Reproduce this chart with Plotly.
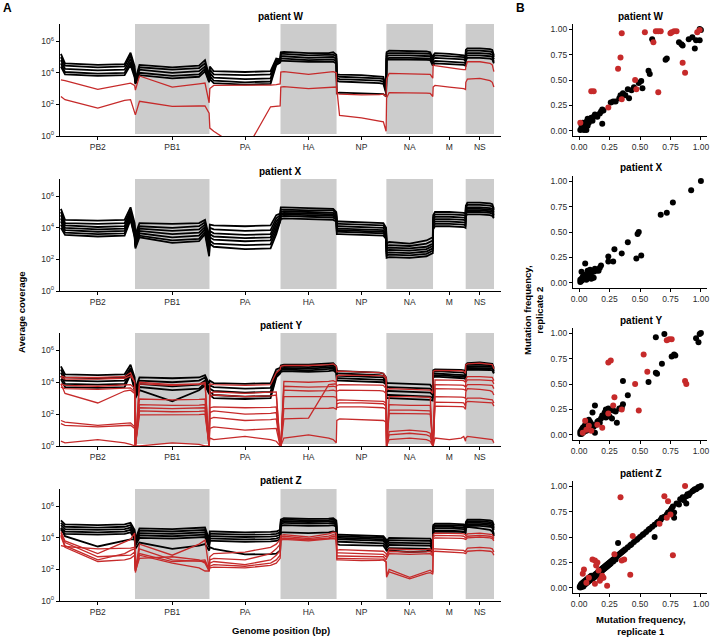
import plotly.graph_objects as go

# ---------------- data ----------------
SEG_NAMES = ["PB2", "PB1", "PA", "HA", "NP", "NA", "M", "NS"]
SEG_LEN = [2341, 2341, 2233, 1762, 1565, 1467, 1027, 890]
SHADED = ["PB1", "HA", "NA", "NS"]
SAMPLE_FRAC = [0.005, 0.06, 0.5, 0.86, 0.94, 0.995]   # sampling positions within each segment

# log10(average coverage), 6 samples per segment, segments separated by "|"
W_BLACK = [
    "5.2 4.6 4.5 4.55 5.27 4.4 | 3.6 4.5 4.35 4.45 4.8 3.8 | 4.4 4.1 4.05 4.1 4.9 4.85 | 5.3 5.33 5.25 5.25 5.3 5.15 | 3.9 3.88 3.85 3.8 3.75 3.0 | 5.3 5.4 5.38 5.35 5.3 4.9 | 5.1 5.25 5.2 5.15 5.1 5.0 | 5.45 5.55 5.55 5.5 5.45 5.1",
    "5.0 4.45 4.35 4.4 5.1 4.2 | 3.5 4.35 4.2 4.3 4.6 3.65 | 4.2 3.9 3.85 3.9 4.8 4.8 | 5.2 5.2 5.1 5.12 5.15 5.05 | 3.8 3.75 3.7 3.65 3.6 2.9 | 5.2 5.25 5.25 5.22 5.2 4.8 | 5.0 5.1 5.05 5.02 5.0 4.9 | 5.3 5.4 5.4 5.35 5.3 5.0",
    "4.8 4.25 4.15 4.2 4.9 4.0 | 3.4 4.2 4.0 4.1 4.4 3.55 | 4.0 3.7 3.6 3.65 4.7 4.75 | 5.05 5.05 4.95 4.97 5.0 4.9 | 3.65 3.6 3.55 3.5 3.45 2.8 | 5.05 5.1 5.1 5.07 5.05 4.7 | 4.85 4.95 4.9 4.87 4.85 4.75 | 5.15 5.25 5.25 5.2 5.15 4.85",
    "4.6 4.05 3.95 4.0 4.7 3.85 | 3.35 4.0 3.8 3.9 4.25 3.45 | 3.8 3.5 3.4 3.45 4.6 4.7 | 4.9 4.9 4.8 4.82 4.85 4.75 | 3.5 3.45 3.4 3.35 3.3 2.7 | 4.9 4.95 4.95 4.92 4.9 4.55 | 4.65 4.75 4.7 4.67 4.65 4.6 | 5.0 5.1 5.1 5.05 5.0 4.7",
    "4.4 3.9 3.8 3.85 4.5 3.7 | 3.3 3.85 3.65 3.75 4.1 3.4 | 3.6 3.35 3.25 3.3 4.5 4.65 | 4.75 4.75 4.7 4.7 4.7 4.6 | 2.7 2.75 2.7 2.67 2.65 2.5 | 4.8 4.85 4.85 4.82 4.8 4.45 | 4.5 4.6 4.55 4.52 4.5 4.45 | 4.8 4.95 4.95 4.9 4.85 4.6",
]
W_RED = [
    "3.55 3.5 2.95 3.3 3.35 3.2 | 2.9 3.8 3.1 3.3 3.35 2.1 | 3.0 3.2 3.2 3.22 3.25 3.3 | 4.05 4.07 3.9 4.0 4.07 4.0 | 2.7 2.65 2.6 2.62 2.65 2.5 | 3.6 3.97 3.95 3.92 3.9 3.66 | 4.5 4.45 4.3 4.22 4.2 4.2 | 4.4 4.7 4.7 4.6 4.5 4.07",
    "2.5 2.3 1.77 2.25 2.3 1.34 | 1.34 2.2 1.87 1.9 1.9 1.45 | 0.5 0.3 -1 1.85 1.88 1.9 | 3.1 3.12 3.0 3.1 3.12 3.1 | 3.0 1.3 1.15 0.95 0.9 0.3 | 2.4 2.75 2.75 2.72 2.7 2.5 | 3.1 3.2 3.1 3.05 3.0 2.95 | 3.4 3.6 3.65 3.5 3.4 3.1",
]

X_BLACK = [
    "5.2 4.5 4.45 4.5 5.3 4.3 | 3.6 4.3 4.25 4.3 4.5 3.4 | 4.2 4.15 4.1 4.15 4.8 4.9 | 5.3 5.3 5.25 5.22 5.2 5.0 | 4.4 4.4 4.35 4.32 4.3 4.0 | 3.0 3.1 3.0 3.2 3.3 3.4 | 4.8 5.0 5.0 4.97 4.95 4.9 | 5.4 5.6 5.6 5.55 5.5 5.2",
    "5.0 4.3 4.25 4.3 5.1 4.1 | 3.4 4.1 4.0 4.1 4.35 3.2 | 4.0 3.9 3.8 3.85 4.6 4.8 | 5.15 5.15 5.1 5.1 5.1 4.9 | 4.25 4.25 4.2 4.17 4.15 3.9 | 2.85 2.9 2.85 3.0 3.1 3.2 | 4.65 4.85 4.85 4.82 4.8 4.75 | 5.3 5.45 5.45 5.4 5.35 5.1",
    "4.8 4.15 4.05 4.1 4.95 3.9 | 3.2 3.95 3.8 3.9 4.2 3.0 | 3.8 3.65 3.55 3.6 4.4 4.7 | 5.0 5.05 5.0 4.97 4.95 4.8 | 4.1 4.1 4.05 4.02 4.0 3.75 | 2.7 2.75 2.7 2.8 2.9 3.0 | 4.5 4.7 4.7 4.67 4.65 4.6 | 5.2 5.3 5.3 5.25 5.2 5.0",
    "4.6 4.0 3.9 3.95 4.85 3.75 | 3.0 3.8 3.6 3.7 4.05 2.8 | 3.6 3.45 3.35 3.4 4.2 4.6 | 4.9 4.95 4.9 4.87 4.85 4.7 | 3.95 3.95 3.9 3.87 3.85 3.6 | 2.55 2.6 2.55 2.65 2.75 2.85 | 4.35 4.55 4.55 4.52 4.5 4.45 | 5.1 5.2 5.2 5.15 5.1 4.9",
    "4.4 3.85 3.75 3.8 4.7 3.6 | 2.9 3.65 3.4 3.5 3.9 2.6 | 3.4 3.25 3.15 3.2 4.0 4.5 | 4.8 4.85 4.8 4.77 4.75 4.6 | 3.85 3.85 3.8 3.77 3.75 3.5 | 2.4 2.45 2.4 2.5 2.6 2.7 | 4.2 4.4 4.4 4.37 4.35 4.3 | 5.0 5.1 5.1 5.05 5.0 4.8",
    "4.2 3.7 3.6 3.65 4.6 3.5 | 2.8 3.5 3.2 3.3 3.75 2.4 | 3.2 3.0 2.9 2.95 3.8 4.4 | 4.7 4.75 4.7 4.67 4.65 4.5 | 3.75 3.75 3.7 3.67 3.65 3.4 | 2.25 2.3 2.25 2.35 2.45 2.55 | 4.05 4.25 4.25 4.22 4.2 4.15 | 4.9 5.0 5.0 4.95 4.9 4.7",
    "4.0 3.55 3.45 3.5 4.5 3.4 | 2.7 3.4 3.05 3.15 3.6 2.2 | 3.0 2.8 2.65 2.7 3.6 4.3 | 4.55 4.6 4.55 4.52 4.5 4.4 | 3.6 3.6 3.55 3.52 3.5 3.3 | 2.1 2.15 2.1 2.2 2.3 2.4 | 3.9 4.1 4.1 4.07 4.05 4.0 | 4.75 4.85 4.85 4.8 4.75 4.6",
]
X_RED = []

Y_BLACK = [
    "5.0 4.5 4.45 4.5 5.1 4.3 | 3.6 4.3 4.25 4.3 4.45 3.9 | 4.1 3.95 3.9 3.95 4.8 4.9 | 5.05 5.1 5.1 5.15 5.2 5.0 | 4.7 4.7 4.65 4.6 4.55 4.3 | 3.95 3.95 3.9 3.87 3.85 3.6 | 4.75 4.8 4.8 4.77 4.75 4.6 | 5.1 5.2 5.25 5.2 5.15 4.9",
    "4.8 4.3 4.25 4.3 4.9 4.0 | 3.4 4.1 4.0 4.1 4.3 3.6 | 3.8 3.7 3.6 3.65 4.6 4.8 | 4.95 5.0 4.95 5.0 5.05 4.9 | 4.55 4.55 4.5 4.45 4.4 4.15 | 3.7 3.7 3.65 3.62 3.6 3.4 | 4.6 4.7 4.65 4.62 4.6 4.5 | 5.0 5.1 5.1 5.07 5.05 4.8",
    "4.6 4.1 4.05 4.1 4.75 3.8 | 3.2 3.9 3.75 3.85 4.1 3.4 | 3.6 3.45 3.35 3.4 4.5 4.7 | 4.85 4.9 4.85 4.9 4.95 4.8 | 4.4 4.4 4.35 4.32 4.3 4.05 | 3.45 3.45 3.4 3.37 3.35 3.2 | 4.5 4.55 4.5 4.47 4.45 4.4 | 4.9 5.0 5.0 4.97 4.95 4.7",
    "4.4 3.9 3.85 3.9 4.6 3.6 | 3.1 3.7 3.5 3.6 3.95 3.3 | 3.4 3.2 3.1 3.15 4.4 4.6 | 4.75 4.8 4.75 4.8 4.85 4.7 | 4.25 4.25 4.2 4.17 4.15 3.95 | 3.2 3.2 3.15 3.12 3.1 3.0 | 4.4 4.45 4.4 4.37 4.35 4.3 | 4.8 4.9 4.9 4.87 4.85 4.6",
    "4.2 3.7 3.65 3.7 4.5 3.5 | 3.0 3.5 2.8 3.5 3.8 3.2 | 3.2 3.0 2.95 3.0 4.3 4.55 | 4.65 4.7 4.65 4.7 4.75 4.6 | 4.1 4.1 4.05 4.02 4.0 3.85 | 3.0 3.0 2.95 2.92 2.9 2.85 | 4.3 4.35 4.3 4.27 4.25 4.2 | 4.7 4.8 4.8 4.77 4.75 4.55",
]
Y_RED = [
    "4.3 4.2 4.2 4.25 4.4 4.0 | 0 3.9 3.8 3.85 3.9 0 | 3.9 3.85 3.8 3.85 4.6 4.8 | 5.0 5.05 5.05 5.1 5.15 5.0 | 4.65 4.7 4.65 4.6 4.55 4.3 | 3.5 3.6 3.55 3.52 3.5 3.3 | 4.7 4.75 4.75 4.72 4.7 4.55 | 5.1 5.15 5.2 5.15 5.1 4.85",
    "4.4 4.3 4.3 4.35 4.6 4.0 | 0 4.0 3.85 3.9 4.0 0 | 3.3 3.4 3.3 3.35 3.4 0 | 0 4.05 4.0 4.05 4.1 4.0 | 4.4 4.45 4.45 4.42 4.4 4.2 | 0 3.1 3.1 3.07 3.05 0 | 0 4.15 4.15 4.12 4.1 4.0 | 4.2 4.35 4.35 4.32 4.3 4.1",
    "3.9 3.8 3.75 3.8 3.85 3.6 | 0 2.95 2.9 2.92 2.95 0 | 3.1 3.2 3.1 3.15 3.2 0 | 0 3.75 3.7 3.72 3.75 3.7 | 3.8 3.85 3.85 3.82 3.8 3.6 | 0 2.6 2.55 2.55 2.55 0 | 0 3.85 3.85 3.82 3.8 3.7 | 4.0 4.15 4.15 4.12 4.1 3.9",
    "3.7 3.6 3.55 3.6 3.65 3.4 | 0 2.6 2.55 2.57 2.6 0 | 2.4 2.45 2.4 2.42 2.45 0 | 0 3.5 3.45 3.47 3.5 3.45 | 3.45 3.5 3.5 3.47 3.45 3.3 | 0 2.25 2.25 2.22 2.2 0 | 0 3.6 3.6 3.57 3.55 3.5 | 3.7 3.85 3.85 3.82 3.8 3.6",
    "3.9 3.3 2.7 3.45 3.5 3.3 | 0 2.4 2.35 2.37 2.4 0 | 2.1 2.2 2.0 2.05 2.1 0 | 0 3.1 3.1 3.1 3.1 3.05 | 2.85 2.9 2.85 2.82 2.8 2.7 | 0 2.05 2.05 2.02 2.0 0 | 0 3.1 3.1 3.07 3.05 3.0 | 3.4 3.6 3.55 3.47 3.4 3.2",
    "1.6 1.5 1.3 1.4 1.45 1.2 | 0 2.2 2.15 2.17 2.2 0 | 1.7 1.8 1.6 1.65 1.7 0 | 0 2.35 2.35 2.37 2.4 2.3 | 2.65 2.7 2.7 2.67 2.65 2.5 | 0 0.9 1.0 0.9 0.8 0 | 0 2.75 2.75 2.72 2.7 2.5 | 2.9 3.0 3.0 2.95 2.9 2.7",
    "1.4 1.3 1.2 1.25 1.3 1.1 | 0 1.95 1.95 1.97 2.0 0 | 1.1 1.2 1.0 1.05 1.1 0 | 0 1.7 1.75 3.85 3.9 3.9 | 2.4 2.45 2.45 2.42 2.4 2.3 | 0 0.7 0.8 0.7 0.6 0 | 0 2.5 2.5 2.47 2.45 2.3 | 2.7 2.8 2.75 2.72 2.7 2.5",
    "0.3 0.2 0.4 0.2 0.1 0 | 0 0 0.2 0.1 0 0 | 0.5 0.4 0.6 0.4 0.3 0 | 0 0.5 0.7 0.5 0.4 0.2 | 1.6 1.7 1.65 1.62 1.6 1.5 | 0 0.4 0.5 0.4 0.3 0 | 0 0.5 0.4 0.5 0.6 0.3 | 0.5 0.6 0.5 0.45 0.4 0.2",
]

Z_BLACK = [
    "5.1 4.85 4.8 4.85 4.95 4.5 | 3.9 4.6 4.55 4.6 4.65 3.9 | 4.4 4.4 4.35 4.37 4.4 4.5 | 5.15 5.25 5.2 5.22 5.25 5.1 | 4.2 4.2 4.15 4.12 4.1 3.9 | 3.8 4.0 3.95 3.95 3.95 3.7 | 4.8 4.9 4.9 4.87 4.85 4.75 | 5.0 5.15 5.15 5.1 5.05 4.8",
    "4.95 4.7 4.65 4.7 4.8 4.35 | 3.8 4.45 4.4 4.45 4.5 3.75 | 4.25 4.25 4.2 4.22 4.25 4.35 | 5.05 5.15 5.1 5.12 5.15 5.0 | 4.1 4.1 4.05 4.02 4.0 3.8 | 3.65 3.85 3.8 3.8 3.8 3.55 | 4.7 4.8 4.8 4.77 4.75 4.65 | 4.9 5.05 5.05 5.0 4.95 4.7",
    "4.8 4.55 4.5 4.55 4.65 4.2 | 3.7 4.3 4.25 4.3 4.35 3.6 | 4.1 4.1 4.05 4.07 4.1 4.2 | 4.95 5.05 5.0 5.02 5.05 4.9 | 4.0 4.0 3.95 3.92 3.9 3.7 | 3.5 3.7 3.65 3.65 3.65 3.4 | 4.6 4.7 4.7 4.67 4.65 4.55 | 4.8 4.95 4.95 4.9 4.85 4.6",
    "4.65 4.4 4.35 4.4 4.5 4.05 | 3.6 4.15 4.1 4.15 4.2 3.5 | 3.95 3.95 3.9 3.92 3.95 4.05 | 4.85 4.95 4.9 4.92 4.95 4.8 | 3.9 3.9 3.85 3.82 3.8 3.6 | 3.35 3.55 3.5 3.5 3.5 3.25 | 4.5 4.6 4.6 4.57 4.55 4.45 | 4.7 4.85 4.85 4.8 4.75 4.5",
    "4.5 4.25 4.2 4.25 4.35 3.9 | 3.5 4.0 3.95 4.0 4.05 3.4 | 3.8 3.8 3.75 3.77 3.8 3.9 | 4.75 4.8 4.75 4.77 4.8 4.7 | 3.75 3.75 3.7 3.67 3.65 3.45 | 3.15 3.35 3.3 3.3 3.3 3.1 | 4.4 4.45 4.45 4.42 4.4 4.35 | 4.6 4.75 4.75 4.7 4.65 4.2",
    "4.6 4.1 3.45 3.8 3.9 3.9 | 3.3 3.7 3.3 3.5 3.6 3.2 | 3.4 3.3 2.95 2.97 3.0 3.2 | 4.35 4.35 4.3 4.35 4.4 4.3 | 3.6 3.55 3.5 3.5 3.5 3.3 | 3.2 3.2 3.1 3.15 3.2 3.1 | 4.3 4.4 4.4 4.37 4.35 4.3 | 4.6 4.7 4.6 4.5 4.4 4.1",
]
Z_RED = [
    "4.4 3.8 3.0 3.7 3.9 4.3 | 2.0 3.6 2.9 3.6 3.85 2.0 | 2.8 3.0 3.1 3.4 3.6 3.9 | 4.15 4.2 4.05 4.25 4.35 4.3 | 3.2 3.25 3.2 3.17 3.15 3.0 | 2.9 3.3 3.25 3.27 3.3 3.1 | 4.2 4.3 4.3 4.27 4.25 4.2 | 4.1 4.25 4.3 4.25 4.2 4.0",
    "4.2 3.5 2.6 3.0 3.2 3.3 | 1.9 3.3 2.6 2.55 2.5 1.9 | 2.6 2.7 2.6 3.0 3.3 3.6 | 4.05 4.1 3.95 4.1 4.2 4.15 | 3.05 3.05 3.0 2.97 2.95 2.8 | 2.8 3.15 3.1 3.12 3.15 2.95 | 4.05 4.15 4.15 4.12 4.1 4.05 | 4.0 4.1 4.15 4.1 4.05 3.9",
    "3.5 3.45 3.3 3.32 3.35 3.4 | 2.0 3.0 2.5 2.55 2.6 2.0 | 2.4 2.5 2.3 2.6 2.9 3.2 | 3.95 4.0 3.85 4.0 4.1 4.05 | 2.85 2.85 2.8 2.8 2.8 2.6 | 2.7 3.0 2.95 2.97 3.0 2.85 | 3.95 4.0 4.0 3.97 3.95 3.9 | 3.9 4.0 4.05 4.0 3.95 3.8",
    "4.3 3.7 2.8 2.85 2.9 3.1 | 1.8 2.9 2.4 2.1 1.9 1.9 | 2.2 2.3 2.2 2.4 2.6 2.9 | 3.9 3.95 3.9 3.95 4.0 3.95 | 2.7 2.7 2.65 2.65 2.65 2.5 | 1.6 2.0 1.5 1.9 1.95 1.8 | 3.3 3.3 3.25 3.22 3.2 3.1 | 3.2 3.35 3.4 3.35 3.3 3.1",
    "4.1 3.4 2.5 2.6 2.7 2.9 | 1.9 2.7 2.8 2.6 2.4 1.9 | 2.1 2.15 2.1 2.25 2.4 2.7 | 3.85 3.9 3.8 3.9 3.95 3.9 | 2.6 2.6 2.55 2.57 2.6 2.45 | 1.5 1.85 1.4 1.75 1.8 1.7 | 3.1 3.15 3.1 3.07 3.05 3.0 | 3.0 3.15 3.2 3.15 3.1 2.9",
]

# mutation frequencies: replicate 1 (x) vs replicate 2 (y)
W_BLK_X = [0.01,0.02,0.02,0.03,0.03,0.04,0.04,0.05,0.05,0.06,0.06,0.07,0.07,0.08,0.09,0.10,0.11,0.12,0.13,0.15,0.17,0.18,0.19,0.20,0.19,
           0.26,0.28,0.30,0.33,0.34,0.36,0.38,0.40,0.41,0.43,0.45,0.49,0.51,0.52,0.57,0.58,0.60,0.71,0.72,0.82,0.84,0.85,0.90,0.93,0.95,0.96,0.99,1.00,0.99]
W_BLK_Y = [0.01,0.03,0.06,0.02,0.08,0.04,0.01,0.06,0.03,0.09,0.01,0.05,0.12,0.08,0.11,0.13,0.10,0.14,0.16,0.14,0.17,0.19,0.21,0.20,0.07,
           0.28,0.29,0.29,0.32,0.35,0.37,0.35,0.41,0.32,0.40,0.43,0.47,0.49,0.42,0.59,0.56,0.90,0.70,0.71,0.87,0.85,0.84,0.90,0.92,0.81,0.89,1.00,0.99,0.89]
W_RED_X = [0.01,0.10,0.12,0.24,0.32,0.34,0.35,0.35,0.46,0.47,0.54,0.61,0.63,0.65,0.67,0.65,0.75,0.76,0.78,0.80,0.85,0.87,0.97,0.99]
W_RED_Y = [0.08,0.39,0.39,0.23,0.61,0.72,0.96,0.31,0.50,0.41,0.97,0.87,0.98,0.98,0.98,0.38,0.96,0.97,0.98,0.98,0.67,0.57,0.97,0.99]

X_BLK_X = [0.67,0.72,0.77,0.92,1.00,0.40,0.48,0.49,0.51,0.47,0.35,0.29,0.28,0.24,0.24,0.18,0.17,0.16,0.13,0.12,0.11,0.10,0.09,0.08,0.07,
           0.06,0.05,0.05,0.04,0.03,0.02,0.02,0.01,0.03,0.06,0.08,0.10,0.12,0.14,0.09,0.07,0.04,0.02,0.01,0.015]
X_BLK_Y = [0.67,0.69,0.79,0.91,1.00,0.40,0.48,0.50,0.27,0.24,0.29,0.33,0.21,0.26,0.21,0.17,0.15,0.12,0.14,0.11,0.05,0.10,0.13,0.09,0.12,
           0.07,0.19,0.05,0.04,0.06,0.11,0.02,0.01,0.03,0.03,0.06,0.04,0.05,0.12,0.10,0.07,0.08,0.04,0.03,0.02]
X_RED_X = []
X_RED_Y = []

Y_BLK_X = [1.00,0.99,0.96,0.98,0.70,0.63,0.79,0.76,0.78,0.68,0.63,0.64,0.57,0.36,0.40,0.36,0.35,0.31,0.28,0.26,0.24,0.22,0.21,0.20,0.22,
           0.25,0.27,0.18,0.17,0.16,0.14,0.13,0.13,0.12,0.11,0.10,0.10,0.09,0.08,0.07,0.06,0.05,0.05,0.04,0.03,0.03,0.02,0.02,0.01,0.01,
           0.04,0.06,0.08,0.15,0.19,0.23,0.30,0.33]
Y_BLK_Y = [1.00,0.99,0.95,0.91,0.99,0.96,0.78,0.77,0.79,0.70,0.61,0.60,0.52,0.53,0.39,0.30,0.27,0.12,0.24,0.25,0.26,0.25,0.22,0.18,0.17,
           0.18,0.16,0.16,0.12,0.14,0.10,0.29,0.02,0.08,0.22,0.11,0.05,0.13,0.07,0.10,0.04,0.10,0.06,0.03,0.07,0.02,0.05,0.01,0.01,0.03,
           0.08,0.12,0.15,0.13,0.19,0.21,0.23,0.26]
Y_RED_X = [0.72,0.74,0.76,0.53,0.24,0.26,0.56,0.46,0.87,0.88,0.49,0.29,0.35,0.28,0.24,0.19,0.05,0.06,0.10,0.08,0.15,0.03]
Y_RED_Y = [0.93,0.94,0.94,0.79,0.71,0.73,0.62,0.50,0.53,0.50,0.24,0.37,0.25,0.29,0.21,0.07,0.14,0.05,0.04,0.09,0.10,0.02]

Z_BLK_X = [0.005,0.01,0.01,0.015,0.02,0.02,0.025,0.03,0.03,0.035,0.04,0.04,0.045,0.05,0.05,0.055,0.06,0.06,0.065,0.07,0.07,0.075,0.08,0.08,0.085,
           0.09,0.09,0.095,0.10,0.10,0.11,0.11,0.12,0.12,0.13,0.13,0.14,0.14,0.15,0.15,0.16,0.16,0.17,0.17,0.18,0.18,0.19,0.19,0.20,0.20,
           0.21,0.21,0.22,0.22,0.23,0.23,0.24,0.24,0.25,0.25,0.26,0.26,0.27,0.28,0.28,0.29,0.30,0.30,0.31,0.32,0.33,0.32,0.34,0.35,0.36,
           0.37,0.38,0.40,0.42,0.43,0.45,0.47,0.48,0.50,0.52,0.53,0.55,0.57,0.58,0.60,0.62,0.62,0.64,0.65,0.67,0.68,0.70,0.72,0.73,0.75,
           0.76,0.77,0.78,0.78,0.80,0.82,0.83,0.85,0.86,0.88,0.88,0.89,0.90,0.91,0.93,0.94,0.95,0.96,0.97,0.98,0.99,1.00]
Z_BLK_Y = [0.01,0.02,0.005,0.03,0.01,0.04,0.02,0.03,0.05,0.015,0.04,0.06,0.03,0.05,0.07,0.04,0.06,0.08,0.05,0.07,0.09,0.06,0.08,0.10,0.07,
           0.09,0.11,0.08,0.10,0.12,0.09,0.11,0.12,0.10,0.13,0.11,0.14,0.12,0.15,0.13,0.16,0.14,0.17,0.15,0.18,0.16,0.19,0.17,0.20,0.18,
           0.21,0.19,0.22,0.20,0.23,0.21,0.24,0.22,0.25,0.23,0.26,0.24,0.27,0.28,0.26,0.29,0.30,0.28,0.31,0.32,0.33,0.44,0.34,0.35,0.36,
           0.37,0.38,0.40,0.42,0.43,0.45,0.47,0.48,0.50,0.52,0.53,0.55,0.57,0.58,0.60,0.50,0.62,0.64,0.65,0.67,0.69,0.70,0.72,0.74,0.76,
           0.78,0.80,0.69,0.74,0.83,0.82,0.87,0.89,0.86,0.90,0.83,0.92,0.91,0.93,0.95,0.96,0.97,0.97,0.98,0.99,0.99,1.00]
Z_RED_X = [0.03,0.04,0.06,0.11,0.13,0.14,0.15,0.16,0.18,0.17,0.20,0.23,0.13,0.29,0.35,0.37,0.42,0.44,0.66,0.72,0.75,0.77,0.87,0.34,0.70,0.73,0.08,0.19]
Z_RED_Y = [0.14,0.18,0.05,0.28,0.27,0.22,0.25,0.17,0.09,0.07,0.10,0.02,0.04,0.33,0.27,0.28,0.13,0.51,0.63,0.69,0.72,0.32,1.00,0.89,0.90,0.85,0.10,0.12]

PATIENTS = ["W", "X", "Y", "Z"]
COVERAGE = {"W": (W_BLACK, W_RED), "X": (X_BLACK, X_RED), "Y": (Y_BLACK, Y_RED), "Z": (Z_BLACK, Z_RED)}
FREQS = {"W": (W_BLK_X, W_BLK_Y, W_RED_X, W_RED_Y), "X": (X_BLK_X, X_BLK_Y, X_RED_X, X_RED_Y),
         "Y": (Y_BLK_X, Y_BLK_Y, Y_RED_X, Y_RED_Y), "Z": (Z_BLK_X, Z_BLK_Y, Z_RED_X, Z_RED_Y)}

# ---------------- geometry ----------------
FW, FH = 711, 637
def px(v): return v / FW
def py(v): return 1 - v / FH

seg_start = []
acc = 0
for L in SEG_LEN:
    seg_start.append(acc)
    acc += L
genome_x = []
for s, L in zip(seg_start, SEG_LEN):
    genome_x += [s + f * L for f in SAMPLE_FRAC]
mids = [s + L / 2 for s, L in zip(seg_start, SEG_LEN)]

def parse(s):
    vals = [10 ** float(v) for v in s.replace("|", " ").split()]
    if len(vals) != len(genome_x):
        raise ValueError(f"line has {len(vals)} values: {s[:40]}")
    return vals

BLACK = "#000000"
RED = "#C62A2A"
FONT = "Liberation Sans, Arial, sans-serif"
TICKFONT = dict(family=FONT, size=8.5, color="#2b2b2b")

LEFT_X = [px(60), px(501)]
LEFT_Y = [(136, 24), (291, 179), (446, 333), (601, 489)]
RIGHT_X = [px(573), px(707)]
RIGHT_Y = [(136, 24), (288, 176), (440, 328), (593, 481)]

fig = go.Figure()
layout = dict(width=FW, height=FH, margin=dict(l=0, r=0, t=0, b=0),
              paper_bgcolor="white", plot_bgcolor="white", showlegend=False)
shapes = []
annotations = []

def axis_common():
    return dict(showgrid=False, zeroline=False, showline=True, linecolor="black", linewidth=1.3,
                ticks="outside", ticklen=3, tickwidth=1, tickcolor="black", tickfont=TICKFONT,
                fixedrange=True, automargin=False)

for i, p in enumerate(PATIENTS):
    li = i + 1
    ri = i + 5
    lx = "x" if li == 1 else f"x{li}"
    ly = "y" if li == 1 else f"y{li}"
    rx, ry = f"x{ri}", f"y{ri}"
    xa = axis_common()
    xa.update(domain=LEFT_X, range=[-17, 13846], tickvals=mids, ticktext=SEG_NAMES, anchor=ly)
    ya = axis_common()
    ya.update(domain=[py(LEFT_Y[i][0]), py(LEFT_Y[i][1])], type="log", range=[0, 7.09],
              tickvals=[1, 1e2, 1e4, 1e6],
              ticktext=["10<sup>0</sup>", "10<sup>2</sup>", "10<sup>4</sup>", "10<sup>6</sup>"], anchor=lx)
    layout["xaxis" if li == 1 else f"xaxis{li}"] = xa
    layout["yaxis" if li == 1 else f"yaxis{li}"] = ya
    xb = axis_common()
    xb.update(domain=RIGHT_X, range=[-0.05, 1.05], tickvals=[0, 0.25, 0.5, 0.75, 1],
              ticktext=["0.00", "0.25", "0.50", "0.75", "1.00"], anchor=ry)
    yb = axis_common()
    yb.update(domain=[py(RIGHT_Y[i][0]), py(RIGHT_Y[i][1])], range=[-0.05, 1.05],
              tickvals=[0, 0.25, 0.5, 0.75, 1], ticktext=["0.00", "0.25", "0.50", "0.75", "1.00"], anchor=rx)
    layout[f"xaxis{ri}"] = xb
    layout[f"yaxis{ri}"] = yb

    for name in SHADED:
        k = SEG_NAMES.index(name)
        shapes.append(dict(type="rect", xref=lx, yref=f"{ly} domain", x0=seg_start[k],
                           x1=seg_start[k] + SEG_LEN[k], y0=0.017, y1=1.0,
                           fillcolor="#CCCCCC", line=dict(width=0), layer="below"))
    blk, red = COVERAGE[p]
    for s in blk:
        fig.add_trace(go.Scatter(x=genome_x, y=parse(s), mode="lines", xaxis=lx, yaxis=ly,
                                 line=dict(color=BLACK, width=1.8), hoverinfo="skip"))
    for s in red:
        fig.add_trace(go.Scatter(x=genome_x, y=parse(s), mode="lines", xaxis=lx, yaxis=ly,
                                 line=dict(color=RED, width=1.3), hoverinfo="skip"))
    bx, by, rx_, ry_ = FREQS[p]
    fig.add_trace(go.Scatter(x=bx, y=by, mode="markers", xaxis=rx, yaxis=ry,
                             marker=dict(color=BLACK, size=6), hoverinfo="skip", cliponaxis=False))
    if rx_:
        fig.add_trace(go.Scatter(x=rx_, y=ry_, mode="markers", xaxis=rx, yaxis=ry,
                                 marker=dict(color=RED, size=6), hoverinfo="skip", cliponaxis=False))

    title = f"<b>patient {p}</b>"
    annotations.append(dict(text=title, x=px(280.5), y=py(LEFT_Y[i][1] - 8), xref="paper", yref="paper",
                            showarrow=False, font=dict(family=FONT, size=10, color="black"),
                            xanchor="center", yanchor="middle"))
    annotations.append(dict(text=title, x=px(641), y=py(RIGHT_Y[i][1] - 8), xref="paper", yref="paper",
                            showarrow=False, font=dict(family=FONT, size=10, color="black"),
                            xanchor="center", yanchor="middle"))

annotations += [
    dict(text="<b>A</b>", x=px(7), y=py(8), xref="paper", yref="paper", showarrow=False,
         xanchor="center", yanchor="middle", font=dict(family=FONT, size=12, color="black")),
    dict(text="<b>B</b>", x=px(520), y=py(8), xref="paper", yref="paper", showarrow=False,
         xanchor="center", yanchor="middle", font=dict(family=FONT, size=12, color="black")),
    dict(text="<b>Average coverage</b>", x=px(21), y=py(312), xref="paper", yref="paper", showarrow=False,
         xanchor="center", yanchor="middle", textangle=-90, font=dict(family=FONT, size=9.5, color="black")),
    dict(text="<b>Genome position (bp)</b>", x=px(280.5), y=py(630), xref="paper", yref="paper",
         xanchor="center", yanchor="middle", showarrow=False, font=dict(family=FONT, size=9.5, color="black")),
    dict(text="<b>Mutation frequency,<br>replicate 2</b>", x=px(533), y=py(310), xref="paper", yref="paper",
         xanchor="center", yanchor="middle", showarrow=False, textangle=-90,
         font=dict(family=FONT, size=9.5, color="black")),
    dict(text="<b>Mutation frequency,<br>replicate 1</b>", x=px(641), y=py(625), xref="paper", yref="paper",
         xanchor="center", yanchor="middle", showarrow=False, font=dict(family=FONT, size=9.5, color="black")),
]
layout["shapes"] = shapes
layout["annotations"] = annotations
fig.update_layout(**layout)
fig.write_html("out.html", config={"displayModeBar": False})

# remove the browser's default page margin so the figure sits at the window's top-left corner
with open("out.html", "r", encoding="utf-8") as fh:
    html = fh.read()
html = html.replace("<head>", "<head><style>html,body{margin:0;padding:0;overflow:hidden;}</style>", 1)
with open("out.html", "w", encoding="utf-8") as fh:
    fh.write(html)
